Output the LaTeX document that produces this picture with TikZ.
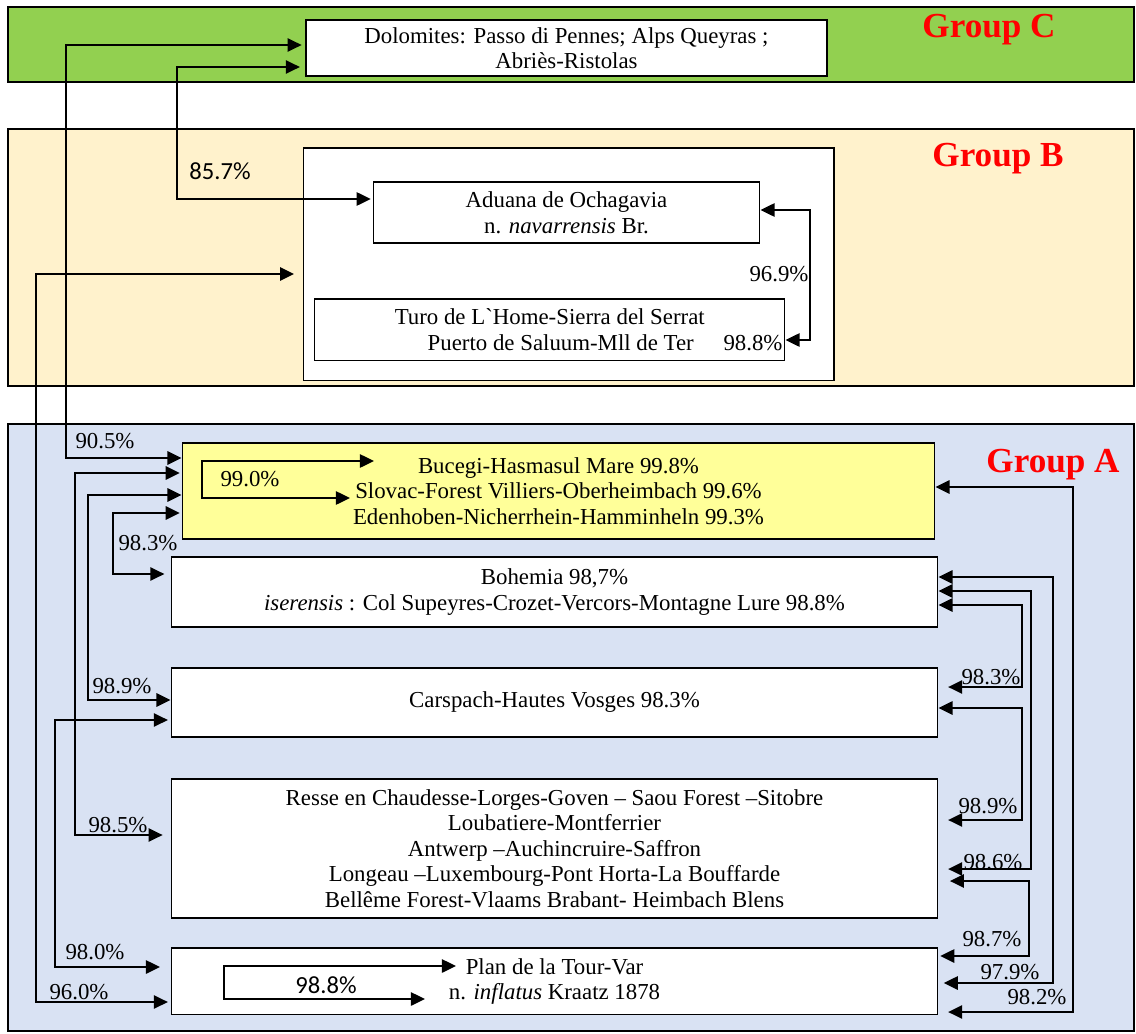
\documentclass[tikz,border=0pt]{standalone}
\usepackage{fontspec}
\setmainfont{Liberation Serif}
\newfontfamily\calibri{Carlito}
\usetikzlibrary{arrows.meta}
\definecolor{band c}{HTML}{92D050}
\definecolor{band b}{HTML}{FFF2CC}
\definecolor{band a}{HTML}{D9E2F3}
\definecolor{core area}{HTML}{FFFF99}
\tikzset{band/.style={draw=black, line width=0.9pt},
	site/.style={draw=black, fill=white, line width=0.6pt, align=center, inner sep=0pt,
		font=\fontsize{13}{14.5}\selectfont},
	grp/.style={text=red, font=\fontsize{20}{24}\selectfont\bfseries},
	pct/.style={inner sep=0pt, font=\fontsize{13}{15}\selectfont},
	pctsans/.style={inner sep=0pt, font=\calibri\fontsize{14}{16}\selectfont},
	link/.style={line width=1.2pt, {Triangle[length=8pt,width=7.5pt]}-{Triangle[length=8pt,width=7.5pt]}}}

\begin{document}
\begin{tikzpicture}[x=0.02cm, y=-0.02cm]
 \useasboundingbox (0,0) rectangle (1136,1034);

 % the three groups
 \draw[band, fill=band c] (8,7) rectangle (1134,82);
 \draw[band, fill=band b] (8,129) rectangle (1134,386);
 \draw[band, fill=band a] (8,424) rectangle (1134,1031);
 \node[grp] (grpC) at (989,30) {Group C};
 \node[grp] (grpB) at (998,159) {Group B};
 \node[grp] (grpA) at (1053,465) {Group A};

 % group C
 \node[site, line width=1pt, minimum width=10.42cm, minimum height=1.12cm] (dolo) at (566.5,48)
   {Dolomites: Passo di Pennes; Alps Queyras ;\\ Abriès-Ristolas};

 % group B
 \node[site, line width=0.8pt, minimum width=10.61cm, minimum height=4.65cm] (innerB) at (568.75,264.25) {};
 \node[site, minimum width=7.74cm, minimum height=1.22cm] (aduana) at (566.5,212.5)
   {Aduana de Ochagavia\\ n. \textit{navarrensis} Br.};
 \node[site, minimum width=9.41cm, minimum height=1.23cm] (turo) at (549.75,329.75)
   {Turo de L\textasciigrave Home-Sierra del Serrat\\ \hspace*{0.44cm}Puerto de Saluum-Mll de Ter};

 % group A
 \node[site, fill=core area, minimum width=15.06cm, minimum height=1.92cm] (yellow) at (558.5,491)
   {Bucegi-Hasmasul Mare 99.8\%\\ Slovac-Forest Villiers-Oberheimbach 99.6\%\\ Edenhoben-Nicherrhein-Hamminheln 99.3\%};
 \node[site, minimum width=15.34cm, minimum height=1.4cm] (bohemia) at (554.5,592)
   {Bohemia 98,7\%\\ \textit{iserensis} : Col Supeyres-Crozet-Vercors-Montagne Lure 98.8\%};
 \node[site, minimum width=15.34cm, minimum height=1.38cm] (carspach) at (554.5,702.5)
   {Carspach-Hautes Vosges 98.3\%};
 \node[site, minimum width=15.34cm, minimum height=2.78cm] (resse) at (554.5,848.5)
   {Resse en Chaudesse-Lorges-Goven – Saou Forest –Sitobre\\ Loubatiere-Montferrier\\
    Antwerp –Auchincruire-Saffron\\ Longeau –Luxembourg-Pont Horta-La Bouffarde\\
    Bellême Forest-Vlaams Brabant- Heimbach Blens};
 \node[site, minimum width=15.34cm, minimum height=1.33cm] (plan) at (554.5,981.25)
   {Plan de la Tour-Var\\ n. \textit{inflatus} Kraatz 1878};

 % links, left side
 \draw[link, shorten <=2pt] (dolo.west |- 0,45) -| (66,458) -- (yellow.west |- 0,458);
 \draw[link, shorten <=3pt, shorten >=1pt] (dolo.west |- 0,67) -| (177,199) -- (aduana.west |- 0,199);
 \draw[link, shorten <=5pt, shorten >=1.5pt] (innerB.west |- 0,274) -| (36,1002) -- (plan.west |- 0,1002);
 \draw[link, shorten <=1pt, shorten >=4.5pt] (yellow.west |- 0,473) -| (75,835) -- (resse.west |- 0,835);
 \draw[link] (yellow.west |- 0,495) -| (88,700) -- (carspach.west |- 0,700);
 \draw[link, shorten <=1pt, shorten >=3.5pt] (yellow.west |- 0,513) -| (113,574) -- (bohemia.west |- 0,574);
 \draw[link, shorten <=1.5pt, shorten >=6pt] (carspach.west |- 0,720) -| (55,967) -- (plan.west |- 0,967);
 \draw[link] (aduana.east |- 0,210) -| (810,340) -- (turo.east |- 0,340);

 % links, right side
 \draw[link, shorten >=5.5pt] (yellow.east |- 0,487) -| (1073,1012) -- (plan.east |- 0,1012);
 \draw[link, shorten >=3pt] (bohemia.east |- 0,577) -| (1053,983) -- (plan.east |- 0,983);
 \draw[link, shorten >=5.5pt] (bohemia.east |- 0,591) -| (1031,869) -- (resse.east |- 0,869);
 \draw[link, shorten >=5.5pt] (bohemia.east |- 0,605) -| (1022,687) -- (carspach.east |- 0,687);
 \draw[link, shorten >=5.5pt] (carspach.east |- 0,708) -| (1022,820) -- (resse.east |- 0,820);
 \draw[link, shorten <=6.5pt, shorten >=1pt] (resse.east |- 0,881) -| (1029,956) -- (plan.east |- 0,956);

 % links inside a box
 \coordinate (bucegi) at (374,461);
 \coordinate (slovac) at (350,498);
 \draw[link] (bucegi) -| (202,498) -- (slovac);
 \coordinate (tourvar) at (456,966);
 \coordinate (inflatus) at (425,999);
 \draw[link] (tourvar) -| (224,999) -- (inflatus);

 % percentages
 \node[pct] (p905) at (105,441) {90.5\%};
 \node[pctsans] (p857) at (220,171) {85.7\%};
 \node[pct] (p960) at (79,992) {96.0\%};
 \node[pct] (p969) at (779,274) {96.9\%};
 \node[pct] (p988t) at (753,343) {98.8\%};
 \node[pct] (p985) at (118,825) {98.5\%};
 \node[pct] (p989l) at (122,686) {98.9\%};
 \node[pct] (p983l) at (148,543) {98.3\%};
 \node[pct] (p980) at (95,952) {98.0\%};
 \node[pct] (p990) at (250,479) {99.0\%};
 \node[pctsans] (p988p) at (326,985) {98.8\%};
 \node[pct] (p982) at (1037,997) {98.2\%};
 \node[pct] (p979) at (1010,972) {97.9\%};
 \node[pct] (p987) at (992,939) {98.7\%};
 \node[pct] (p986) at (993,862) {98.6\%};
 \node[pct] (p989r) at (988,806) {98.9\%};
 \node[pct] (p983r) at (991,677) {98.3\%};

\end{tikzpicture}
\end{document}
